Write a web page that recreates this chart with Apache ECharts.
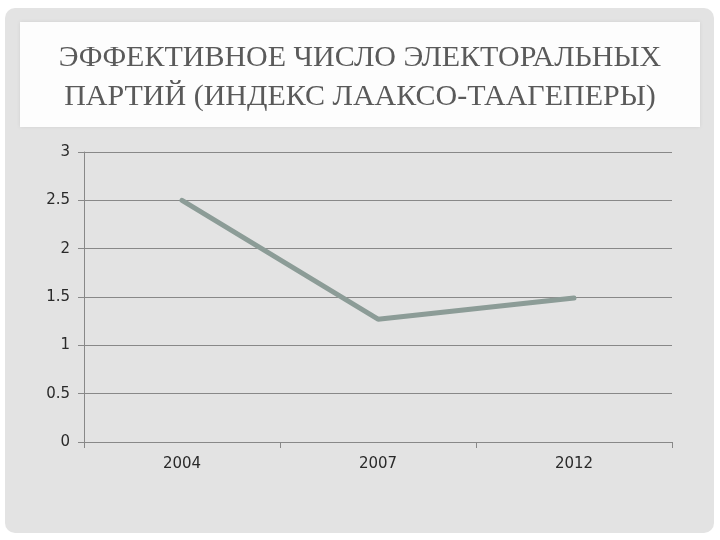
<!DOCTYPE html>
<html>
<head>
<meta charset="utf-8">
<script src="https://cdn.jsdelivr.net/npm/echarts@6/dist/echarts.min.js"></script>
<style>
html,body{margin:0;padding:0;background:#ffffff;}
#c{width:720px;height:540px;}
</style>
</head>
<body>
<div id="c"></div>
<script>
const titleLines = ['ЭФФЕКТИВНОЕ ЧИСЛО ЭЛЕКТОРАЛЬНЫХ', 'ПАРТИЙ (ИНДЕКС ЛААКСО-ТААГЕПЕРЫ)'];
const categories = ['2004', '2007', '2012'];
const values = [2.5, 1.27, 1.49];
const yTicks = [0, 0.5, 1, 1.5, 2, 2.5, 3];

const chart = echarts.init(document.getElementById('c'));
chart.setOption({
  animation: false,
  backgroundColor: '#ffffff',
  graphic: [
    { type: 'rect', z: -10, shape: { x: 5, y: 8, width: 709, height: 525, r: 10 }, style: { fill: '#e3e3e3' } },
    { type: 'rect', z: -9, shape: { x: 20, y: 22, width: 680, height: 105 }, style: { fill: '#fdfdfd', shadowBlur: 4, shadowColor: 'rgba(0,0,0,0.08)' } }
  ],
  title: {
    text: titleLines.join('\n'),
    left: 'center',
    top: 34,
    textStyle: {
      fontFamily: 'Liberation Serif',
      fontWeight: 'normal',
      fontSize: 30,
      lineHeight: 39,
      color: '#5a5a5a'
    }
  },
  grid: { left: 84, right: 48, top: 152, bottom: 98, containLabel: false },
  xAxis: {
    type: 'category',
    data: categories,
    boundaryGap: true,
    axisLine: { lineStyle: { color: '#888888', width: 1 } },
    axisTick: { show: true, length: 6, lineStyle: { color: '#888888' } },
    axisLabel: { fontFamily: 'DejaVu Sans', fontSize: 15, color: '#2a2a2a', margin: 15 }
  },
  yAxis: {
    type: 'value',
    min: 0,
    max: 3,
    interval: 0.5,
    axisLine: { show: true, lineStyle: { color: '#888888', width: 1 } },
    axisTick: { show: true, length: 6, lineStyle: { color: '#888888' } },
    splitLine: { lineStyle: { color: '#888888', width: 1 } },
    axisLabel: { fontFamily: 'DejaVu Sans', fontSize: 15, color: '#2a2a2a', margin: 14,
      formatter: v => yTicks.includes(v) ? String(v) : '' }
  },
  series: [{
    type: 'line',
    data: values,
    symbol: 'none',
    lineStyle: { color: '#8c9c97', width: 5, cap: 'round' }
  }]
});
</script>
</body>
</html>
